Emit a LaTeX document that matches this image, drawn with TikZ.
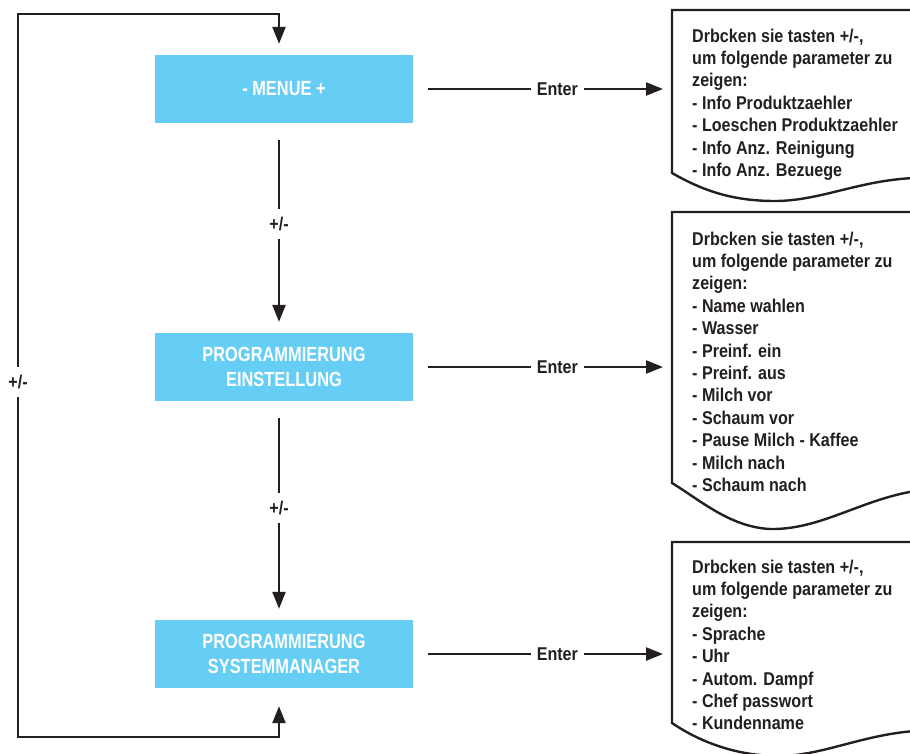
\documentclass[tikz,border=0pt]{standalone}
\usepackage{fontspec}
\setmainfont{Liberation Sans}
\newfontfamily\boxfont[FakeStretch=0.8]{Liberation Sans}
\newfontfamily\docfont[FakeStretch=0.87]{Liberation Sans}
\usetikzlibrary{arrows.meta}
\definecolor{boxblue}{RGB}{102,206,245}
\definecolor{ink}{RGB}{35,31,32}
\begin{document}
\begin{tikzpicture}[x=1pt,y=-1pt,
  conn/.style={draw=ink, line width=2.4pt},
  tip/.style={-{Triangle[length=17pt,width=13pt]}},
  twotips/.style={{Triangle[length=17pt,width=13pt]}-{Triangle[length=17pt,width=13pt]}},
  menubox/.style={fill=boxblue, minimum width=258pt, minimum height=68pt, inner sep=0pt,
    text=white, align=center, font=\boxfont\bfseries\fontsize{20.5}{25}\selectfont},
  lbl/.style={fill=white, text=ink, inner xsep=6pt, inner ysep=8pt,
    font=\docfont\bfseries\fontsize{18.5}{22.4}\selectfont},
  doc/.style={draw=ink, fill=white, line width=2.4pt, line join=miter},
  docarea/.style={inner sep=0pt, anchor=north west},
  doctext/.style={anchor=base west, inner sep=0pt, text=ink,
    font=\docfont\bfseries\fontsize{18.5}{22.4}\selectfont}
]
\useasboundingbox (0,0) rectangle (910,753);
\clip (0,0) rectangle (910,753);

% menu boxes
\node[menubox] (m) at (284,89) {- MENUE +};
\node[menubox] (p) at (284,367) {PROGRAMMIERUNG\\EINSTELLUNG};
\node[menubox] (s) at (284,654) {PROGRAMMIERUNG\\SYSTEMMANAGER};

% document shapes
\draw[doc] (915,10) -- (672,10) -- (672,173)
  .. controls (705,192) and (735,201) .. (775,201)
  .. controls (820,201) and (860,180) .. (915,178);
\draw[doc] (915,212) -- (672,212) -- (672,483)
  .. controls (700,500) and (730,527) .. (770,529)
  .. controls (820,530) and (860,500) .. (915,491);
\draw[doc] (915,542) -- (672,542) -- (672,723)
  .. controls (700,742) and (735,755) .. (775,756)
  .. controls (820,757) and (860,735) .. (915,731);

\node[docarea, minimum width=240pt, minimum height=163pt] (d1) at (672,10) {};
\node[docarea, minimum width=240pt, minimum height=271pt] (d2) at (672,212) {};
\node[docarea, minimum width=240pt, minimum height=181pt] (d3) at (672,542) {};

\node[doctext] (t1) at (692,42) {\parbox[t]{215pt}{\raggedright
Drbcken sie tasten +/-,\\
um folgende parameter zu\\
zeigen:\\
- Info Produktzaehler\\
- Loeschen Produktzaehler\\
- Info Anz. Reinigung\\
- Info Anz. Bezuege}};
\node[doctext] (t2) at (692,245) {\parbox[t]{215pt}{\raggedright
Drbcken sie tasten +/-,\\
um folgende parameter zu\\
zeigen:\\
- Name wahlen\\
- Wasser\\
- Preinf. ein\\
- Preinf. aus\\
- Milch vor\\
- Schaum vor\\
- Pause Milch - Kaffee\\
- Milch nach\\
- Schaum nach}};
\node[doctext] (t3) at (692,573) {\parbox[t]{215pt}{\raggedright
Drbcken sie tasten +/-,\\
um folgende parameter zu\\
zeigen:\\
- Sprache\\
- Uhr\\
- Autom. Dampf\\
- Chef passwort\\
- Kundenname}};

% Enter arrows
\draw[conn,tip] ([xshift=15pt]m.east) -- node[lbl,pos=0.55]{Enter} ([xshift=-9pt]m.east -| d1.west);
\draw[conn,tip] ([xshift=15pt]p.east) -- node[lbl,pos=0.55]{Enter} ([xshift=-9pt]p.east -| d2.west);
\draw[conn,tip] ([xshift=15pt]s.east) -- node[lbl,pos=0.55]{Enter} ([xshift=-9pt]s.east -| d3.west);

% vertical arrows
\draw[conn,tip] ([xshift=-5pt,yshift=-17pt]m.south) -- node[lbl,pos=0.46]{+/-} ([xshift=-5pt,yshift=11pt]p.north);
\draw[conn,tip] ([xshift=-5pt,yshift=-17pt]p.south) -- node[lbl,pos=0.47]{+/-} ([xshift=-5pt,yshift=11pt]s.north);

% loop
\coordinate (bl) at (18,737);
\coordinate (tl) at (18,14);
\draw[conn,twotips,line join=miter] ([xshift=-5pt,yshift=-18pt]s.south) |- (bl)
  -- node[lbl,pos=0.491]{+/-} (tl) -| ([xshift=-5pt,yshift=11pt]m.north);
\end{tikzpicture}
\end{document}
